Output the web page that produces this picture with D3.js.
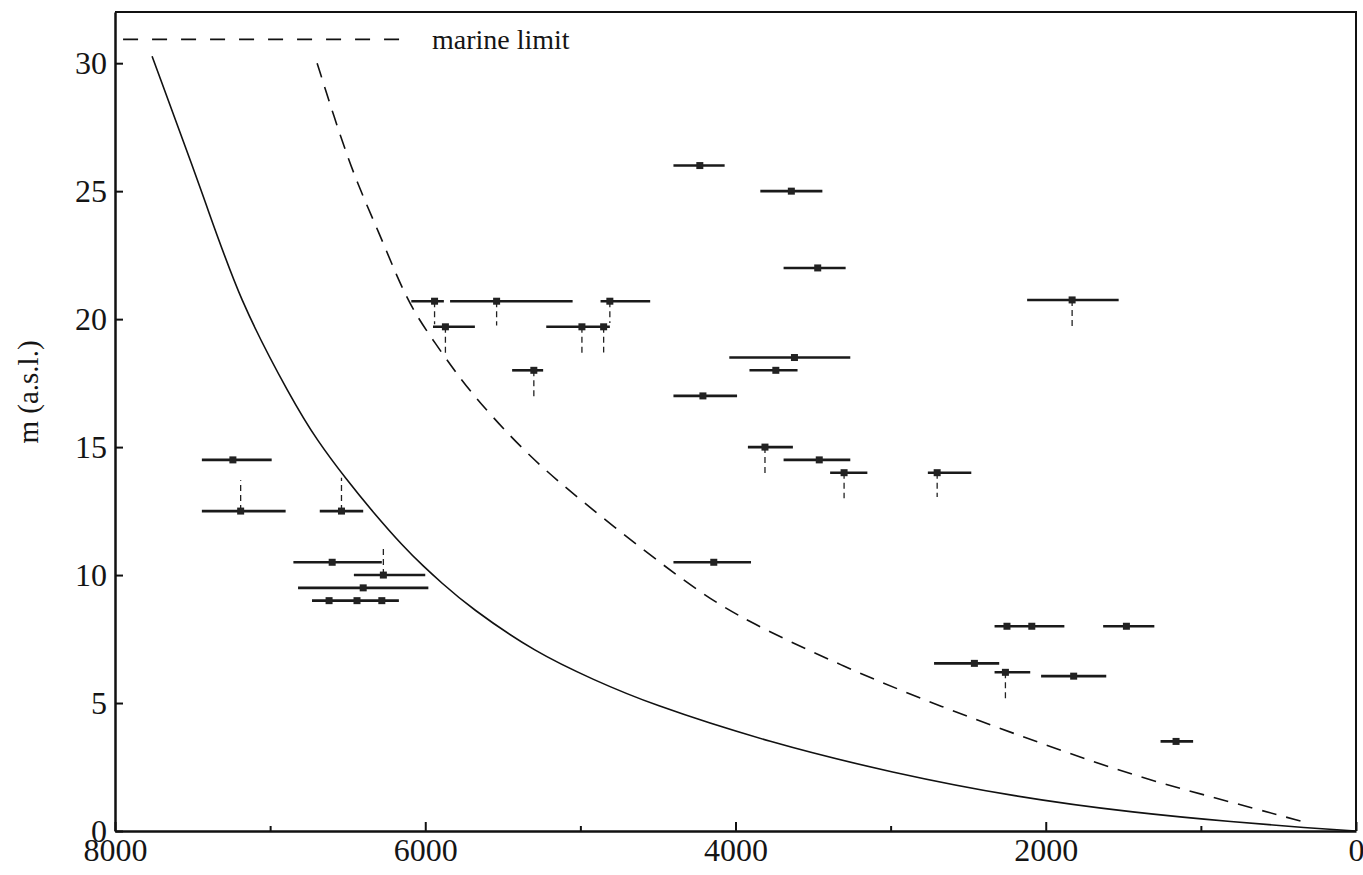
<!DOCTYPE html>
<html>
<head>
<meta charset="utf-8">
<script src="https://cdn.jsdelivr.net/npm/d3@7"></script>
<style>
  body { margin: 0; background: #fff; }
  text { font-family: "Liberation Serif", "Times New Roman", serif; fill: #151515; }
</style>
</head>
<body>
<svg id="chart" width="1363" height="875"></svg>
<script>
// curves (age in years, elevation m a.s.l.)
var solidAge  = [7761, 7419, 7200, 6858, 6699, 6505, 6344, 6140, 6006, 5903, 5716, 5284, 4910, 4568, 3774, 2987, 2200, 1413, 781, 310, 0];
var solidElev = [30.27, 24.65, 20.74, 16.84, 15.27, 13.71, 12.51, 11.1, 10.31, 9.74, 8.75, 6.95, 5.9, 5.0, 3.44, 2.27, 1.33, 0.7, 0.35, 0.12, 0];

var dashedAge  = [6697, 6555, 6439, 6297, 6181, 6075, 5935, 5806, 5666, 5342, 5000, 4594, 4226, 3929, 3303, 2671, 2039, 1413, 781, 310];
var dashedElev = [30.0, 27.27, 25.31, 23.36, 21.64, 20.29, 19.05, 17.94, 16.84, 14.69, 12.93, 10.98, 9.3, 8.2, 6.41, 4.84, 3.44, 2.11, 1.09, 0.31];

var marineLimit = 30.93;
var marineFrom = 7948, marineTo = 6106;

// dated samples: elevation, age range, and the plotted dates on that bar
var samples = [
  { elev: 14.5, from: 7440, to: 6990, ages: [7240] },
  { elev: 12.5, from: 7440, to: 6900, ages: [7190] },
  { elev: 12.5, from: 6680, to: 6400, ages: [6540] },
  { elev: 10.5, from: 6850, to: 6280, ages: [6600] },
  { elev: 10,   from: 6460, to: 6000, ages: [6270] },
  { elev: 9.5,  from: 6820, to: 5980, ages: [6400] },
  { elev: 9,    from: 6730, to: 6170, ages: [6620, 6440, 6280] },
  { elev: 20.7, from: 6090, to: 5880, ages: [5940] },
  { elev: 20.7, from: 5840, to: 5050, ages: [5540] },
  { elev: 20.7, from: 4870, to: 4550, ages: [4810] },
  { elev: 19.7, from: 5950, to: 5680, ages: [5870] },
  { elev: 19.7, from: 5220, to: 4810, ages: [4990, 4850] },
  { elev: 18,   from: 5440, to: 5240, ages: [5300] },
  { elev: 26,   from: 4400, to: 4070, ages: [4230] },
  { elev: 25,   from: 3840, to: 3440, ages: [3640] },
  { elev: 22,   from: 3690, to: 3290, ages: [3470] },
  { elev: 18.5, from: 4040, to: 3260, ages: [3620] },
  { elev: 18,   from: 3910, to: 3600, ages: [3740] },
  { elev: 17,   from: 4400, to: 3990, ages: [4210] },
  { elev: 15,   from: 3920, to: 3630, ages: [3810] },
  { elev: 14.5, from: 3690, to: 3260, ages: [3460] },
  { elev: 14,   from: 3390, to: 3150, ages: [3300] },
  { elev: 20.75,from: 2120, to: 1530, ages: [1830] },
  { elev: 14,   from: 2760, to: 2480, ages: [2700] },
  { elev: 10.5, from: 4400, to: 3900, ages: [4140] },
  { elev: 8,    from: 2330, to: 1880, ages: [2250, 2090] },
  { elev: 8,    from: 1630, to: 1300, ages: [1480] },
  { elev: 6.55, from: 2720, to: 2300, ages: [2460] },
  { elev: 6.2,  from: 2330, to: 2100, ages: [2260] },
  { elev: 6.05, from: 2030, to: 1610, ages: [1820] },
  { elev: 3.5,  from: 1260, to: 1050, ages: [1160] }
];

// thin dashed uprights from a dated point
var links = [
  { age: 7190, from: 12.5, to: 13.7 },
  { age: 6540, from: 12.5, to: 13.8 },
  { age: 6270, from: 10,   to: 11.1 },
  { age: 5940, from: 20.7, to: 19.8 },
  { age: 5540, from: 20.7, to: 19.75 },
  { age: 4810, from: 20.7, to: 19.85 },
  { age: 5870, from: 19.7, to: 18.6 },
  { age: 4990, from: 19.7, to: 18.6 },
  { age: 4850, from: 19.7, to: 18.7 },
  { age: 5300, from: 18,   to: 16.95 },
  { age: 3810, from: 15,   to: 13.85 },
  { age: 3300, from: 14,   to: 13.0 },
  { age: 1830, from: 20.75,to: 19.6 },
  { age: 2700, from: 14,   to: 13.05 },
  { age: 2260, from: 6.2,  to: 5.15 }
];

var xMajor = [8000, 6000, 4000, 2000, 0];
var xMinor = [7000, 5000, 3000, 1000];
var yTicks = [0, 5, 10, 15, 20, 25, 30];

var svg = d3.select("#chart");
var plotLeft = 115, plotRight = 1356, plotTop = 12, plotBottom = 831;

var x = d3.scaleLinear().domain([8000, 0]).range([plotLeft, plotRight]);
var y = d3.scaleLinear().domain([0, 32]).range([plotBottom, plotTop]);

// frame top + right
svg.append("path")
  .attr("d", "M" + plotLeft + "," + plotTop + "H" + plotRight + "V" + plotBottom)
  .attr("fill", "none").attr("stroke", "#111").attr("stroke-width", 2);

// axes, ticks pointing inwards
var gx = svg.append("g").attr("transform", "translate(0," + plotBottom + ")")
  .call(d3.axisBottom(x).tickValues(xMajor).tickSizeInner(-9).tickSizeOuter(0).tickPadding(7).tickFormat(d3.format("d")));
svg.append("g").attr("transform", "translate(0," + plotBottom + ")")
  .call(d3.axisBottom(x).tickValues(xMinor).tickSizeInner(-5).tickSizeOuter(0).tickFormat(""))
  .select(".domain").remove();
var gy = svg.append("g").attr("transform", "translate(" + plotLeft + ",0)")
  .call(d3.axisLeft(y).tickValues(yTicks).tickSizeInner(-8).tickSizeOuter(0).tickPadding(8));

svg.selectAll(".domain").attr("stroke", "#111").attr("stroke-width", 2.5);
svg.selectAll(".tick line").attr("stroke", "#111").attr("stroke-width", 2);
svg.selectAll(".tick text").style("font-size", "32px").attr("fill", "#151515");
gx.selectAll(".tick text").attr("dy", "0.72em");

svg.append("text")
  .attr("transform", "translate(38,392) rotate(-90)")
  .attr("text-anchor", "middle")
  .style("font-size", "29px")
  .text("m (a.s.l.)");

// marine limit
svg.append("line")
  .attr("x1", x(marineFrom)).attr("x2", x(marineTo))
  .attr("y1", y(marineLimit)).attr("y2", y(marineLimit))
  .attr("stroke", "#111").attr("stroke-width", 1.6).attr("stroke-dasharray", "15,14");
svg.append("text")
  .attr("x", 432).attr("y", y(marineLimit) + 10)
  .style("font-size", "28px")
  .text("marine limit");

// curves (smoothed through the read-off points)
var line = d3.line()
  .x(function (d) { return x(d[0]); })
  .y(function (d) { return y(d[1]); })
  .curve(d3.curveBasis);

svg.append("path")
  .attr("d", line(d3.zip(solidAge, solidElev)))
  .attr("fill", "none").attr("stroke", "#111").attr("stroke-width", 1.6);
svg.append("path")
  .attr("d", line(d3.zip(dashedAge, dashedElev)))
  .attr("fill", "none").attr("stroke", "#111").attr("stroke-width", 1.6)
  .attr("stroke-dasharray", "15,10");

// dashed uprights
svg.selectAll(".link").data(links).enter().append("line")
  .attr("x1", function (d) { return x(d.age); })
  .attr("x2", function (d) { return x(d.age); })
  .attr("y1", function (d) { return y(d.from); })
  .attr("y2", function (d) { return y(d.to); })
  .attr("stroke", "#222").attr("stroke-width", 1.3).attr("stroke-dasharray", "6,4");

// age range bars
svg.selectAll(".bar").data(samples).enter().append("line")
  .attr("x1", function (d) { return x(d.from); })
  .attr("x2", function (d) { return x(d.to); })
  .attr("y1", function (d) { return y(d.elev); })
  .attr("y2", function (d) { return y(d.elev); })
  .attr("stroke", "#1a1a1a").attr("stroke-width", 2.6);

// dated points
var pts = [];
samples.forEach(function (s) { s.ages.forEach(function (a) { pts.push([a, s.elev]); }); });
svg.selectAll(".pt").data(pts).enter().append("rect")
  .attr("x", function (d) { return x(d[0]) - 3.5; })
  .attr("y", function (d) { return y(d[1]) - 3.5; })
  .attr("width", 7).attr("height", 7)
  .attr("fill", "#222");
</script>
</body>
</html>
